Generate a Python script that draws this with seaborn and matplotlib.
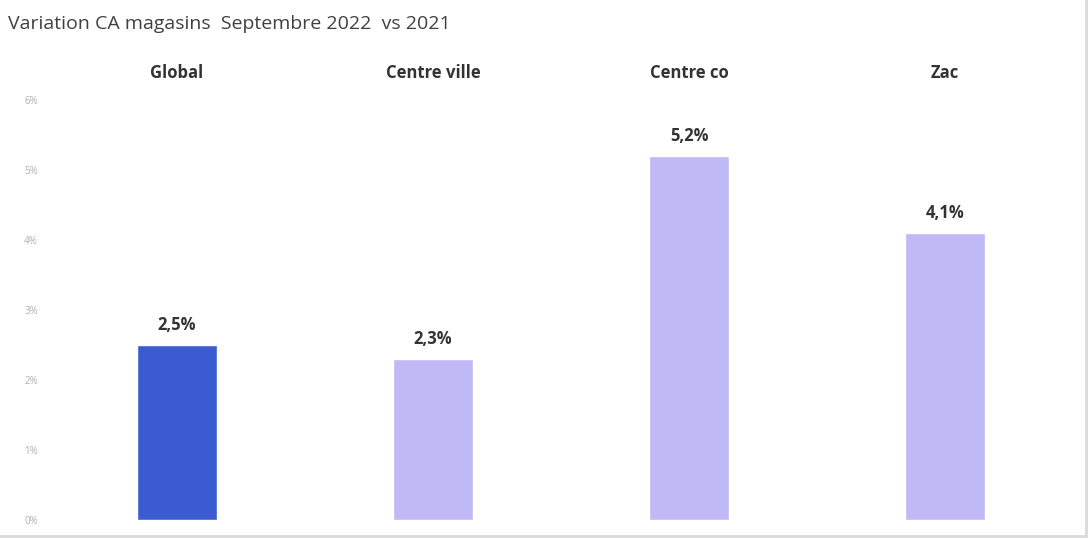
import numpy as np
import pandas as pd
import matplotlib
matplotlib.use("Agg")
import matplotlib.pyplot as plt
import seaborn as sns

# data
zones = ["Global", "Centre ville", "Centre co", "Zac"]
variation = [2.5, 2.3, 5.2, 4.1]
value_labels = ["2,5%", "2,3%", "5,2%", "4,1%"]
y_ticks = [0, 1, 2, 3, 4, 5, 6]
y_tick_labels = ["0%", "1%", "2%", "3%", "4%", "5%", "6%"]
bar_colors = ["#3A5BD2", "#C1B8F6", "#C1B8F6", "#C1B8F6"]

df = pd.DataFrame({"zone": zones, "variation": variation})

sns.set_style("white")
plt.rcParams["font.family"] = ["Open Sans", "DejaVu Sans"]

fig = plt.figure(figsize=(10.9, 5.39), dpi=100)
ax = fig.add_axes([0.045, 0.0353, 0.9395, 0.7792])

sns.barplot(data=df, x="zone", y="variation", hue="zone", palette=bar_colors,
            width=0.31, saturation=1, legend=False, ax=ax)

#labels above bars
for i, v in enumerate(variation):
    ax.annotate(value_labels[i], (i, v), xytext=(0, 8), textcoords="offset points",
                ha="center", va="bottom", fontsize=12, fontweight="bold", color="#333333")

ax.set_xlim(-0.5, 3.5)
ax.set_ylim(0, 6)
ax.set_yticks(y_ticks)
ax.set_yticklabels(y_tick_labels, fontsize=7, color="#b0b0b0")
ax.tick_params(axis="y", length=0, pad=8)
ax.xaxis.tick_top()
ax.set_xticks(range(len(zones)))
ax.set_xticklabels(zones, fontsize=12, fontweight="bold", color="#333333")
ax.tick_params(axis="x", length=0, pad=13)
ax.set_xlabel("")
ax.set_ylabel("")
for s in ax.spines.values():
    s.set_visible(False)

fig.text(0.007, 0.955, "Variation CA magasins  Septembre 2022  vs 2021", fontsize=14,
         color="#404040", ha="left", va="center")

# light grey edges at right and bottom like the screenshot
fig.add_artist(plt.Line2D([0, 0.9965], [0.006, 0.006], transform=fig.transFigure,
                          color="#d9d9d9", lw=2))
fig.add_artist(plt.Line2D([0.9965, 0.9965], [0.006, 1], transform=fig.transFigure,
                          color="#d9d9d9", lw=2))

fig.savefig("out.png", dpi=100)
